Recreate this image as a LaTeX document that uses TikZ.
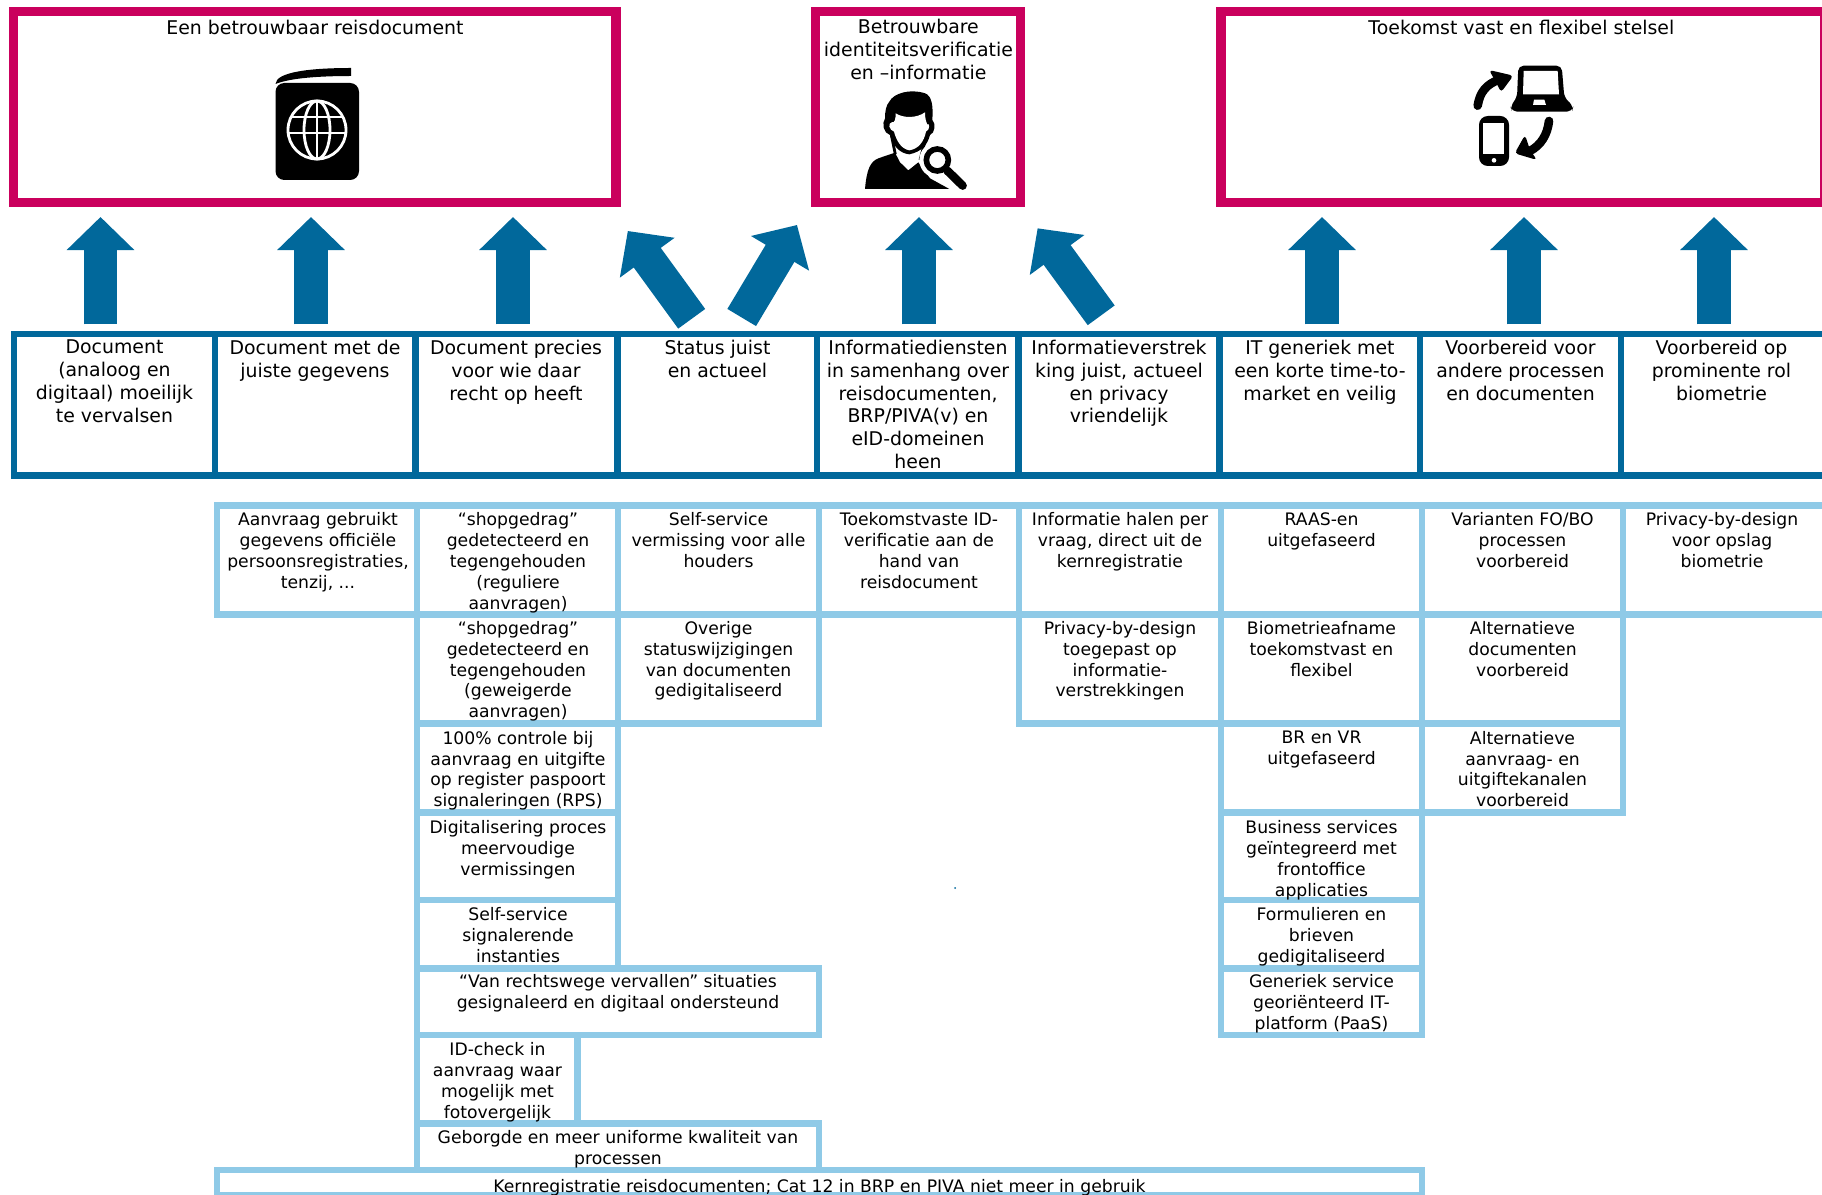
\documentclass[tikz,border=0pt]{standalone}
\usepackage{fontspec}
\setmainfont{DejaVu Sans}
\usetikzlibrary{arrows.meta}

\definecolor{goalred}{HTML}{CA005D}
\definecolor{darkblue}{HTML}{01689B}
\definecolor{lightblue}{HTML}{8FCAE7}

\tikzset{
    goalbox/.style={draw=goalred,line width=5.2pt},
    topbox/.style={draw=darkblue,line width=3.7pt},
    subbox/.style={draw=lightblue,line width=3.7pt},
    goaltext/.style={anchor=north,inner sep=0pt,yshift=-2pt,align=center,font=\fontsize{10.75}{12.98}\selectfont,execute at begin node=\strut},
    toptext/.style={goaltext},
    subtext/.style={anchor=north,inner sep=0pt,yshift=-2pt,align=center,font=\fontsize{9.8}{11.9}\selectfont,execute at begin node=\strut},
    bigarrow/.style={draw=darkblue,line width=19pt,-{Triangle[length=18.8pt,width=37.4pt,fill=darkblue]}},
}

\begin{document}
\begin{tikzpicture}[x=0.02cm,y=-0.02cm]
    \clip (0,0) rectangle (1822,1195);
    % Goals
    \draw[goalbox] (13.5,11.5) rectangle (616,202.5);
    \draw[goalbox] (815.3,11.5) rectangle (1020.5,202.5);
    \draw[goalbox] (1221,11.5) rectangle (1825,202.5);
    \node[goaltext] (goalDocument) at (315,14.6) {Een betrouwbaar reisdocument};
    \node[goaltext] (goalIdentity) at (918.4,15.3) {Betrouwbare\\identiteitsverificatie\\en –informatie};
    \node[goaltext] (goalSystem) at (1521.4,14.6) {Toekomst vast en flexibel stelsel};
    % Passport
    \fill[rounded corners=5] (275.5,83) rectangle (359,180);
    \fill (275.5,84) .. controls (276,72) and (310,68) .. (351,68) -- (351,76) .. controls (320,76) and (290,78) .. (275.5,84) -- cycle;
    \begin{scope}[white,line width=1.6pt]
        \draw (317,130) circle (29);
        \draw (317,130) ellipse (13 and 29);
        \draw (317,101) -- (317,159);
        \draw (291,117) -- (343,117);
        \draw (289,133) -- (345,133);
    \end{scope}
    % Person with magnifier
    \begin{scope}[shift={(850,85)},scale=1/3]
        \fill (45,312) .. controls (50,255) and (60,230) .. (85,220) -- (135,203) -- (150,232) -- (175,256) -- (205,232) -- (240,280) -- (298,312) -- cycle;
        \draw[line width=1.6pt] (124,150) -- (136,208);
        \draw[line width=1.6pt] (226,165) -- (210,225);
        \fill (118,50) .. controls (130,25) and (180,10) .. (225,25) .. controls (245,32) and (250,60) .. (247,105) .. controls (258,115) and (255,145) .. (240,150) .. controls (232,180) and (215,200) .. (178,208) .. controls (150,205) and (130,185) .. (120,150) .. controls (100,145) and (95,115) .. (105,100) .. controls (105,80) and (108,60) .. (118,50) -- cycle;
        \fill[white] (137,85) .. controls (160,100) and (200,100) .. (225,82) .. controls (225,100) and (228,110) .. (232,118) .. controls (240,112) and (240,135) .. (228,140) .. controls (222,170) and (205,192) .. (178,196) .. controls (155,192) and (140,170) .. (132,140) .. controls (118,135) and (112,115) .. (125,112) .. controls (135,115) and (137,100) .. (137,85) -- cycle;
        \fill[white] (262,225) circle (54);
        \draw[white,line width=8pt] (290,255) -- (338,302);
        \draw[line width=3.2pt] (262,225) circle (33);
        \draw[line width=4.8pt,line cap=round] (292,257) -- (338,302);
    \end{scope}
    % Laptop and phone
    \begin{scope}[shift={(1465,55)},scale=1/3]
        \fill[rounded corners=3] (160,32) -- (290,32) -- (298,128) -- (325,153) -- (322,170) -- (140,170) -- (136,153) -- (156,128) -- cycle;
        \fill[white] (176,48) -- (278,48) -- (282,118) -- (174,118) -- cycle;
        \fill[white] (207,134) -- (238,134) -- (243,150) -- (204,150) -- cycle;
        \fill[rounded corners=5] (42,183) rectangle (132,333);
        \fill[white] (55,203) rectangle (118,298);
        \fill[white] (87,316) circle (7);
        \draw[line width=4.9pt,line cap=round] (38,152) .. controls (45,110) and (65,88) .. (100,75);
        \fill[rounded corners=2] (72,45) -- (145,62) -- (108,112) -- (95,85) -- cycle;
        \draw[line width=4.9pt,line cap=round] (252,198) .. controls (247,240) and (228,270) .. (195,288);
        \fill[rounded corners=2] (180,240) -- (149,295) -- (216,315) -- (195,285) -- cycle;
    \end{scope}
    % Arrows
    \foreach \nm/\x in {arrowDoc/100.5,arrowData/311,arrowHolder/513,arrowInfo/919,arrowGeneric/1322,arrowProcess/1524,arrowBio/1714} {
        \coordinate (\nm From) at (\x,324.5);
        \coordinate (\nm To) at (\x,217);
        \draw[bigarrow] (\nm From) -- (\nm To);
    }
    \coordinate (arrowStatusFrom) at (691.7,318.8);
    \coordinate (arrowStatusTo) at (627.8,231);
    \draw[bigarrow] (arrowStatusFrom) -- (arrowStatusTo);
    \coordinate (arrowActualFrom) at (741.7,317.5);
    \coordinate (arrowActualTo) at (797,225);
    \draw[bigarrow] (arrowActualFrom) -- (arrowActualTo);
    \coordinate (arrowPrivacyFrom) at (1101.2,315.3);
    \coordinate (arrowPrivacyTo) at (1037.6,228.3);
    \draw[bigarrow] (arrowPrivacyFrom) -- (arrowPrivacyTo);
    % Top row
    \foreach \xa/\xb in {14/215,215/415.5,415.5/617.5,617.5/817,817/1018.5,1018.5/1219.5,1219.5/1420,1420/1621,1621/1825} {
        \draw[topbox] (\xa,334) rectangle (\xb,475.5);
    }
    \node[toptext] (topForge) at (114.5,336.3) {Document\\(analoog en\\digitaal) moeilijk\\te vervalsen};
    \node[toptext] (topData) at (315,336.3) {Document met de\\juiste gegevens};
    \node[toptext] (topHolder) at (516,336.3) {Document precies\\voor wie daar\\recht op heeft};
    \node[toptext] (topStatus) at (717.5,336.3) {Status juist\\en actueel};
    \node[toptext] (topInfo) at (918,336.3) {Informatiediensten\\in samenhang over\\reisdocumenten,\\BRP/PIVA(v) en\\eID-domeinen\\heen};
    \node[toptext] (topSupply) at (1119,336.3) {Informatieverstrek\\king juist, actueel\\en privacy\\vriendelijk};
    \node[toptext] (topGeneric) at (1320,336.3) {IT generiek met\\een korte time-to-\\market en veilig};
    \node[toptext] (topProcess) at (1520.5,336.3) {Voorbereid voor\\andere processen\\en documenten};
    \node[toptext] (topBio) at (1721.5,336.3) {Voorbereid op\\prominente rol\\biometrie};
    % Sub rows
    \foreach \xa/\ya/\xb/\yb in {217/505.5/417/614.5,417/505.5/618/614.5,618/505.5/819/614.5,819/505.5/1019/614.5,1019/505.5/1221/614.5,1221/505.5/1422/614.5,1422/505.5/1623/614.5,1623/505.5/1825/614.5,
        417/614.5/618/723.5,618/614.5/819/723.5,1019/614.5/1221/723.5,1221/614.5/1422/723.5,1422/614.5/1623/723.5,
        417/723.5/618/812.5,1221/723.5/1422/812.5,1422/723.5/1623/812.5,
        417/812.5/618/900,1221/812.5/1422/900,
        417/900/618/968.5,1221/900/1422/968.5,
        417/968.5/819/1035,1221/968.5/1422/1035,
        417/1035/577.7/1123.5,417/1123.5/819/1170,217/1170/1422/1195} {
        \draw[subbox] (\xa,\ya) rectangle (\xb,\yb);
    }
    \node[subtext] (subAanvraag) at (318,509) {Aanvraag gebruikt\\gegevens officiële\\persoonsregistraties,\\tenzij, ...};
    \node[subtext] (subShopA) at (518,509) {“shopgedrag”\\gedetecteerd en\\tegengehouden\\(reguliere\\aanvragen)};
    \node[subtext] (subSelf) at (718.5,509) {Self-service\\vermissing voor alle\\houders};
    \node[subtext] (subVerif) at (919,509) {Toekomstvaste ID-\\verificatie aan de\\hand van\\reisdocument};
    \node[subtext] (subHalen) at (1120,509) {Informatie halen per\\vraag, direct uit de\\kernregistratie};
    \node[subtext] (subRaas) at (1321.5,509) {RAAS-en\\uitgefaseerd};
    \node[subtext] (subVarianten) at (1522.5,509) {Varianten FO/BO\\processen\\voorbereid};
    \node[subtext] (subOpslag) at (1722,509) {Privacy-by-design\\voor opslag\\biometrie};
    \node[subtext] (subShopB) at (518,617.3) {“shopgedrag”\\gedetecteerd en\\tegengehouden\\(geweigerde\\aanvragen)};
    \node[subtext] (subOverige) at (718.5,617.3) {Overige\\statuswijzigingen\\van documenten\\gedigitaliseerd};
    \node[subtext] (subPrivacy) at (1120,617.3) {Privacy-by-design\\toegepast op\\informatie-\\verstrekkingen};
    \node[subtext] (subBiometrie) at (1321.5,617.3) {Biometrieafname\\toekomstvast en\\flexibel};
    \node[subtext] (subDocs) at (1522.5,617.3) {Alternatieve\\documenten\\voorbereid};
    \node[subtext] (subControle) at (518,727.2) {100\% controle bij\\aanvraag en uitgifte\\op register paspoort\\signaleringen (RPS)};
    \node[subtext] (subBrVr) at (1321.5,727.2) {BR en VR\\uitgefaseerd};
    \node[subtext] (subKanalen) at (1522.5,727.2) {Alternatieve\\aanvraag- en\\uitgiftekanalen\\voorbereid};
    \node[subtext] (subDigi) at (518,816.5) {Digitalisering proces\\meervoudige\\vermissingen};
    \node[subtext] (subBusiness) at (1321.5,816.5) {Business services\\geïntegreerd met\\frontoffice\\applicaties};
    \node[subtext] (subSignaal) at (518,903.7) {Self-service\\signalerende\\instanties};
    \node[subtext] (subBrieven) at (1321.5,903.7) {Formulieren en\\brieven\\gedigitaliseerd};
    \node[subtext] (subVervallen) at (618,970.5) {“Van rechtswege vervallen” situaties\\gesignaleerd en digitaal ondersteund};
    \node[subtext] (subPlatform) at (1321.5,970.5) {Generiek service\\georiënteerd IT-\\platform (PaaS)};
    \node[subtext] (subCheck) at (497.5,1038.8) {ID-check in\\aanvraag waar\\mogelijk met\\fotovergelijk};
    \node[subtext] (subKwaliteit) at (618,1126.2) {Geborgde en meer uniforme kwaliteit van\\processen};
    \node[subtext] (subKern) at (819.5,1173.5) {Kernregistratie reisdocumenten; Cat 12 in BRP en PIVA niet meer in gebruik};
    % Stray dot
    \fill[darkblue] (955,888) circle (1);
\end{tikzpicture}
\end{document}
